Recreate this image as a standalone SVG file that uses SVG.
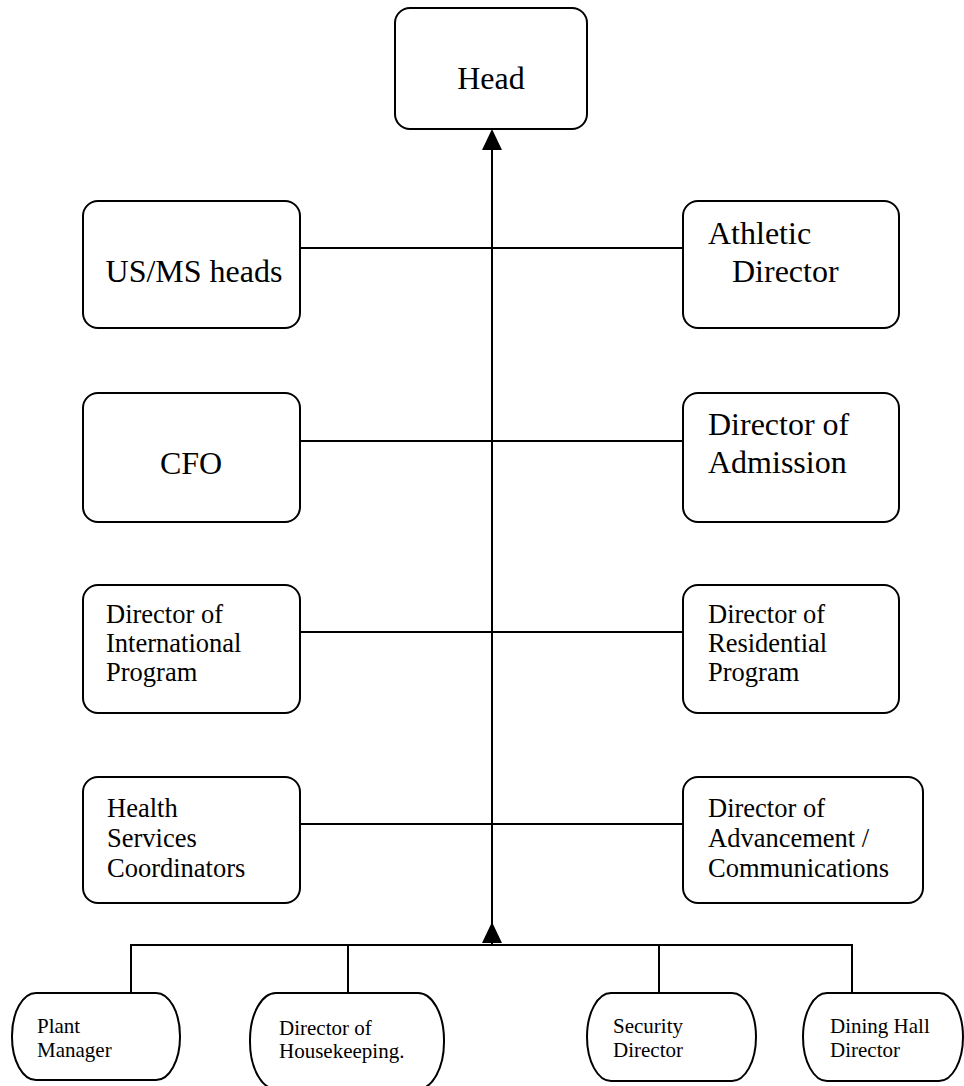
<svg xmlns="http://www.w3.org/2000/svg" width="964" height="1086" viewBox="0 0 964 1086">
<style>
.box{fill:#fff;stroke:#000;stroke-width:2}
.ln{fill:none;stroke:#000;stroke-width:2}
.ah{fill:#000;stroke:none}
text{font-family:"Liberation Serif","Times New Roman",serif;fill:#000}
.big{font-size:32px}
.mid{font-size:26.5px}
.sm{font-size:21px}
</style>
<rect width="964" height="1086" fill="#fff"/>
<g id="connectors">
<line class="ln" x1="492" y1="945" x2="492" y2="148"/>
<line class="ln" x1="300" y1="248" x2="683" y2="248"/>
<line class="ln" x1="300" y1="441" x2="683" y2="441"/>
<line class="ln" x1="300" y1="632" x2="683" y2="632"/>
<line class="ln" x1="300" y1="824" x2="683" y2="824"/>
<polyline class="ln" points="131,993 131,945 852,945 852,993"/>
<line class="ln" x1="348" y1="945" x2="348" y2="993"/>
<line class="ln" x1="659" y1="945" x2="659" y2="993"/>
<polygon class="ah" points="492,129 482,150 502,150"/>
<polygon class="ah" points="492,922 482,943 502,943"/>
</g>
<g id="head">
<rect class="box" x="395" y="8" width="192" height="121" rx="15"/>
<text class="big" x="491" y="89" text-anchor="middle">Head</text>
</g>
<g id="usms">
<rect class="box" x="83" y="201" width="217" height="127" rx="15"/>
<text class="big" x="194" y="282" text-anchor="middle">US/MS heads</text>
</g>
<g id="athletic">
<rect class="box" x="683" y="201" width="216" height="127" rx="15"/>
<text class="big" x="708" y="244">Athletic</text>
<text class="big" x="732" y="282">Director</text>
</g>
<g id="cfo">
<rect class="box" x="83" y="393" width="217" height="129" rx="15"/>
<text class="big" x="191" y="474" text-anchor="middle">CFO</text>
</g>
<g id="admission">
<rect class="box" x="683" y="393" width="216" height="129" rx="15"/>
<text class="big" x="708" y="435">Director of</text>
<text class="big" x="708" y="473">Admission</text>
</g>
<g id="international">
<rect class="box" x="83" y="585" width="217" height="128" rx="15"/>
<text class="mid" x="106" y="623">Director of</text>
<text class="mid" x="106" y="652">International</text>
<text class="mid" x="106" y="681">Program</text>
</g>
<g id="residential">
<rect class="box" x="683" y="585" width="216" height="128" rx="15"/>
<text class="mid" x="708" y="623">Director of</text>
<text class="mid" x="708" y="652">Residential</text>
<text class="mid" x="708" y="681">Program</text>
</g>
<g id="health">
<rect class="box" x="83" y="777" width="217" height="126" rx="15"/>
<text class="mid" x="107" y="817">Health</text>
<text class="mid" x="107" y="847">Services</text>
<text class="mid" x="107" y="877">Coordinators</text>
</g>
<g id="advancement">
<rect class="box" x="683" y="777" width="240" height="126" rx="15"/>
<text class="mid" x="708" y="817">Director of</text>
<text class="mid" x="708" y="847">Advancement /</text>
<text class="mid" x="708" y="877">Communications</text>
</g>
<g id="plant">
<rect class="box" x="12" y="993" width="168" height="87" rx="24" ry="43"/>
<text class="sm" x="37" y="1033">Plant</text>
<text class="sm" x="37" y="1057">Manager</text>
</g>
<g id="housekeeping">
<rect class="box" x="250" y="993" width="194" height="96" rx="26" ry="47"/>
<text class="sm" x="279" y="1035">Director of</text>
<text class="sm" x="279" y="1058">Housekeeping.</text>
</g>
<g id="security">
<rect class="box" x="587" y="993" width="169" height="88" rx="24" ry="44"/>
<text class="sm" x="613" y="1033">Security</text>
<text class="sm" x="613" y="1057">Director</text>
</g>
<g id="dining">
<rect class="box" x="803" y="993" width="160" height="88" rx="24" ry="44"/>
<text class="sm" x="830" y="1033">Dining Hall</text>
<text class="sm" x="830" y="1057">Director</text>
</g>
</svg>
